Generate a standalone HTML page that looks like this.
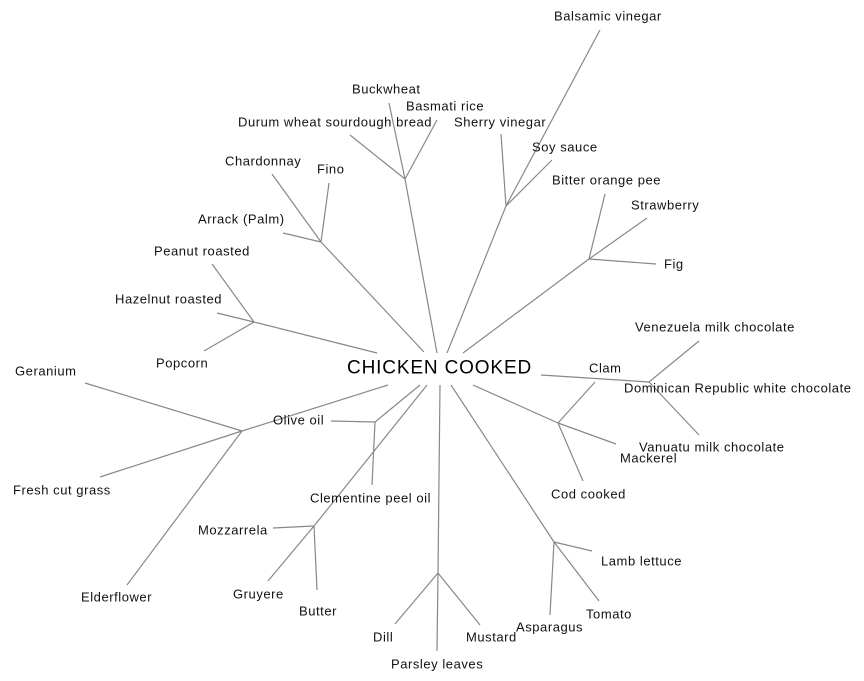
<!DOCTYPE html>
<html><head><meta charset="utf-8"><style>
html,body{margin:0;padding:0;background:#fff;}
svg{display:block;}
text{font-family:"Liberation Sans",Arial,sans-serif;font-size:13px;fill:#111;dominant-baseline:central;letter-spacing:0.55px;}
line{stroke:#888;stroke-width:1.2;}
</style></head><body>
<svg width="864" height="681" viewBox="0 0 864 681" xmlns="http://www.w3.org/2000/svg">
<g>
<line x1="437" y1="353" x2="405" y2="179"/>
<line x1="405" y1="179" x2="389" y2="103"/>
<line x1="405" y1="179" x2="350" y2="135"/>
<line x1="405" y1="179" x2="437" y2="120"/>
<line x1="424" y1="352" x2="321" y2="242"/>
<line x1="321" y1="242" x2="272" y2="174"/>
<line x1="321" y1="242" x2="329" y2="183"/>
<line x1="321" y1="242" x2="283" y2="233"/>
<line x1="377" y1="353" x2="254" y2="322"/>
<line x1="254" y1="322" x2="212" y2="264"/>
<line x1="254" y1="322" x2="217" y2="313"/>
<line x1="254" y1="322" x2="204" y2="351"/>
<line x1="447" y1="353" x2="506" y2="206"/>
<line x1="506" y1="206" x2="501" y2="134"/>
<line x1="506" y1="206" x2="552" y2="160"/>
<line x1="506" y1="206" x2="600" y2="30"/>
<line x1="463" y1="353" x2="589" y2="259"/>
<line x1="589" y1="259" x2="605" y2="194"/>
<line x1="589" y1="259" x2="647" y2="218"/>
<line x1="589" y1="259" x2="656" y2="264"/>
<line x1="541" y1="375" x2="649" y2="382"/>
<line x1="649" y1="382" x2="699" y2="341"/>
<line x1="649" y1="382" x2="699" y2="435"/>
<line x1="473" y1="385" x2="558" y2="423"/>
<line x1="558" y1="423" x2="595" y2="382"/>
<line x1="558" y1="423" x2="616" y2="444"/>
<line x1="558" y1="423" x2="583" y2="481"/>
<line x1="451" y1="385" x2="554" y2="542"/>
<line x1="554" y1="542" x2="592" y2="551"/>
<line x1="554" y1="542" x2="599" y2="601"/>
<line x1="554" y1="542" x2="550" y2="615"/>
<line x1="440" y1="385" x2="438" y2="573"/>
<line x1="438" y1="573" x2="395" y2="624"/>
<line x1="438" y1="573" x2="480" y2="625"/>
<line x1="438" y1="573" x2="437" y2="651"/>
<line x1="427" y1="385" x2="314" y2="526"/>
<line x1="314" y1="526" x2="273" y2="528"/>
<line x1="314" y1="526" x2="268" y2="581"/>
<line x1="314" y1="526" x2="317" y2="590"/>
<line x1="420" y1="385" x2="375" y2="422"/>
<line x1="375" y1="422" x2="331" y2="421"/>
<line x1="375" y1="422" x2="372" y2="485"/>
<line x1="388" y1="385" x2="242" y2="431"/>
<line x1="242" y1="431" x2="85" y2="383"/>
<line x1="242" y1="431" x2="100" y2="477"/>
<line x1="242" y1="431" x2="127" y2="585"/>
</g>
<text x="347" y="368" style="font-size:19px;fill:#000;letter-spacing:0.85px;">CHICKEN COOKED</text>
<text x="554" y="16">Balsamic vinegar</text>
<text x="352" y="89">Buckwheat</text>
<text x="406" y="106">Basmati rice</text>
<text x="238" y="122">Durum wheat sourdough bread</text>
<text x="454" y="122">Sherry vinegar</text>
<text x="532" y="147">Soy sauce</text>
<text x="225" y="161">Chardonnay</text>
<text x="317" y="169">Fino</text>
<text x="552" y="180">Bitter orange pee</text>
<text x="631" y="205">Strawberry</text>
<text x="198" y="219">Arrack (Palm)</text>
<text x="154" y="251">Peanut roasted</text>
<text x="664" y="264">Fig</text>
<text x="115" y="299">Hazelnut roasted</text>
<text x="635" y="327">Venezuela milk chocolate</text>
<text x="156" y="363">Popcorn</text>
<text x="589" y="368">Clam</text>
<text x="15" y="371">Geranium</text>
<text x="624" y="388">Dominican Republic white chocolate</text>
<text x="273" y="420">Olive oil</text>
<text x="639" y="447">Vanuatu milk chocolate</text>
<text x="620" y="458">Mackerel</text>
<text x="13" y="490">Fresh cut grass</text>
<text x="551" y="494">Cod cooked</text>
<text x="310" y="498">Clementine peel oil</text>
<text x="198" y="530">Mozzarrela</text>
<text x="601" y="561">Lamb lettuce</text>
<text x="233" y="594">Gruyere</text>
<text x="81" y="597">Elderflower</text>
<text x="299" y="611">Butter</text>
<text x="586" y="614">Tomato</text>
<text x="516" y="627">Asparagus</text>
<text x="373" y="637">Dill</text>
<text x="466" y="637">Mustard</text>
<text x="391" y="664">Parsley leaves</text>
</svg>
</body></html>
